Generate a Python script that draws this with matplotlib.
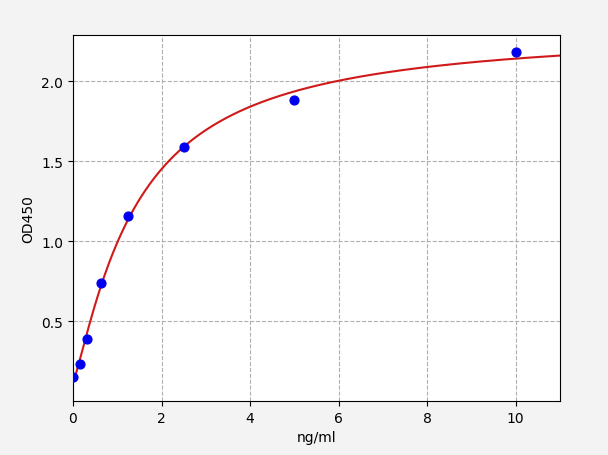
import matplotlib
matplotlib.use("Agg")
import matplotlib.pyplot as plt
import numpy as np

# standard concentrations (ng/ml) and measured OD450
conc = np.array([0.0, 0.156, 0.312, 0.625, 1.25, 2.5, 5.0, 10.0])
od450 = np.array([0.15, 0.23, 0.39, 0.74, 1.16, 1.59, 1.88, 2.18])


def four_pl(x, p):
    a, b, c, d = p
    return d + (a - d) / (1.0 + (np.abs(x) / c) ** b)


def fit_four_pl(x, y, p0, n_iter=200):
    # plain Levenberg-Marquardt with a numerical jacobian
    p = np.array(p0, dtype=float)
    lam = 1e-3
    err = np.sum((four_pl(x, p) - y) ** 2)
    for _ in range(n_iter):
        r = four_pl(x, p) - y
        J = np.zeros((len(x), len(p)))
        for k in range(len(p)):
            dp = np.zeros_like(p)
            dp[k] = 1e-6 * max(abs(p[k]), 1e-3)
            J[:, k] = (four_pl(x, p + dp) - four_pl(x, p)) / dp[k]
        A = J.T @ J
        g = J.T @ r
        step = np.linalg.solve(A + lam * np.diag(np.diag(A)), -g)
        p_new = p + step
        if p_new[2] <= 0:
            lam *= 10
            continue
        err_new = np.sum((four_pl(x, p_new) - y) ** 2)
        if err_new < err:
            p, err = p_new, err_new
            lam /= 10
        else:
            lam *= 10
    return p


params = fit_four_pl(conc, od450, [0.14, 1.0, 2.0, 2.5])
x_fit = np.linspace(0, 11, 400)
y_fit = four_pl(x_fit, params)

fig = plt.figure(figsize=(6.08, 4.56), dpi=100, facecolor="#f3f3f3")
ax = fig.add_axes([0.12, 0.118, 0.801, 0.803])

ax.plot(x_fit, y_fit, color="#d01a1a", lw=1.5, zorder=2)
ax.scatter(conc, od450, s=40, color="#0000ee", zorder=3)

ax.set_xlim(0, 11)
ax.set_ylim(0, od450.max() * 1.05)
ax.set_xticks([0, 2, 4, 6, 8, 10])
ax.set_yticks([0.5, 1.0, 1.5, 2.0])
ax.grid(True, linestyle="--", color="#b0b0b0", lw=0.8)
ax.set_axisbelow(True)
ax.set_xlabel("ng/ml")
ax.set_ylabel("OD450")

fig.savefig("out.png", dpi=100, facecolor=fig.get_facecolor())
